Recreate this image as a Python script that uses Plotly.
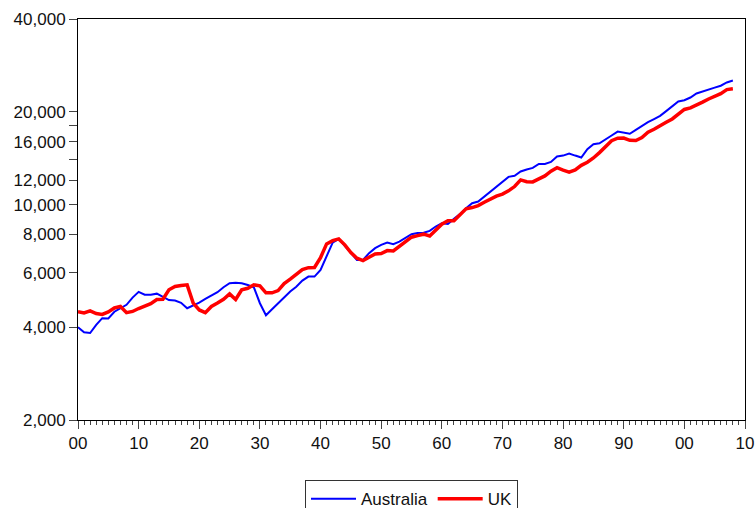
import plotly.graph_objects as go

years = list(range(1900, 2009))

australia = [
    4000, 3850, 3830, 4070, 4280, 4270, 4490, 4620, 4730, 4990,
    5210, 5100, 5100, 5140, 5010, 4900, 4880, 4800, 4610, 4700,
    4805, 4940, 5080, 5195, 5390, 5555, 5580, 5555, 5485, 5390,
    4785, 4375, 4575, 4785, 5000, 5220, 5415, 5665, 5840, 5840,
    6140, 6780, 7525, 7735, 7345, 6955, 6615, 6615, 6955, 7220,
    7400, 7525, 7440, 7585, 7780, 8015, 8080, 8100, 8215, 8485,
    8700, 8650, 8985, 9310, 9735, 10105, 10230, 10615, 11020, 11390,
    11900, 12300, 12400, 12800, 13000, 13150, 13550, 13550, 13750, 14320,
    14420, 14650, 14420, 14210, 15130, 15700, 15800, 16310, 16750, 17250,
    17130, 16965, 17480, 18000, 18500, 18940, 19410, 20100, 20870, 21600,
    21800, 22250, 22930, 23300, 23600, 23950, 24300, 24900, 25250,
]

uk = [
    4492, 4450, 4521, 4430, 4400, 4485, 4620, 4670, 4460, 4500,
    4600, 4690, 4770, 4921, 4930, 5290, 5420, 5460, 5490, 4790,
    4550, 4460, 4670, 4790, 4930, 5130, 4920, 5290, 5350, 5490,
    5450, 5170, 5170, 5260, 5540, 5730, 5950, 6150, 6240, 6250,
    6730, 7455, 7640, 7736, 7400, 6987, 6698, 6578, 6748, 6917,
    6939, 7090, 7070, 7305, 7584, 7837, 7930, 8015, 7910, 8277,
    8636, 8855, 8860, 9259, 9683, 9779, 9925, 10180, 10435, 10648,
    10808, 11077, 11441, 12025, 11859, 11847, 12115, 12384, 12828, 13167,
    12931, 12747, 12955, 13404, 13720, 14165, 14742, 15393, 16110, 16414,
    16430, 16163, 16133, 16496, 17169, 17552, 17955, 18485, 18950, 19600,
    20350, 20600, 21000, 21500, 22000, 22400, 22900, 23600, 23740,
]

y_tick_values = [2000, 4000, 6000, 8000, 10000, 12000, 14000, 16000, 18000, 20000, 40000]
y_tick_labels = ["2,000", "4,000", "6,000", "8,000", "10,000", "12,000", "",
                 "16,000", "", "20,000", "40,000"]
x_tick_values = list(range(1900, 2011, 10))
x_tick_labels = ["00", "10", "20", "30", "40", "50", "60", "70", "80", "90", "00", "10"]

FONT = "Liberation Sans, Arial, sans-serif"

fig = go.Figure()
fig.add_trace(go.Scatter(x=years, y=australia, mode="lines", name="Australia",
                         line=dict(color="#0000FF", width=2)))
fig.add_trace(go.Scatter(x=years, y=uk, mode="lines", name="UK",
                         line=dict(color="#FF0000", width=3.5)))

fig.update_layout(
    width=756, height=508,
    margin=dict(l=78, r=11, t=19, b=88, autoexpand=False),
    paper_bgcolor="white", plot_bgcolor="white",
    font=dict(family=FONT, size=17, color="#111111"),
    showlegend=True,
    legend=dict(orientation="h", x=0.5, xanchor="center", y=-0.15, yanchor="top",
                bordercolor="#333333", borderwidth=1, bgcolor="white",
                font=dict(family=FONT, size=17, color="#111111"),
                itemwidth=45, tracegroupgap=0),
)

fig.update_xaxes(
    range=[1900, 2010], tickmode="array", tickvals=x_tick_values, ticktext=x_tick_labels,
    automargin=False,
    showgrid=False, zeroline=False, showline=True, linecolor="black", linewidth=1,
    mirror=True, ticks="outside", ticklen=8, tickcolor="#444444", tickwidth=1,
    minor=dict(dtick=1, ticks="outside", ticklen=4, tickcolor="#444444", tickwidth=1,
               showgrid=False),
    tickfont=dict(family=FONT, size=17, color="#111111"),
)
fig.update_yaxes(
    type="log", range=[3.30103, 4.60206], tickmode="array",
    tickvals=y_tick_values, ticktext=y_tick_labels, automargin=False,
    showgrid=False, zeroline=False, showline=True, linecolor="black", linewidth=1,
    mirror=True, ticks="outside", ticklen=8, tickcolor="#444444", tickwidth=1,
    tickfont=dict(family=FONT, size=17, color="#111111"),
)

fig.write_html(
    "out.html",
    config={"displayModeBar": False},
    post_script="document.body.style.margin='0';document.body.style.overflow='hidden';",
)
